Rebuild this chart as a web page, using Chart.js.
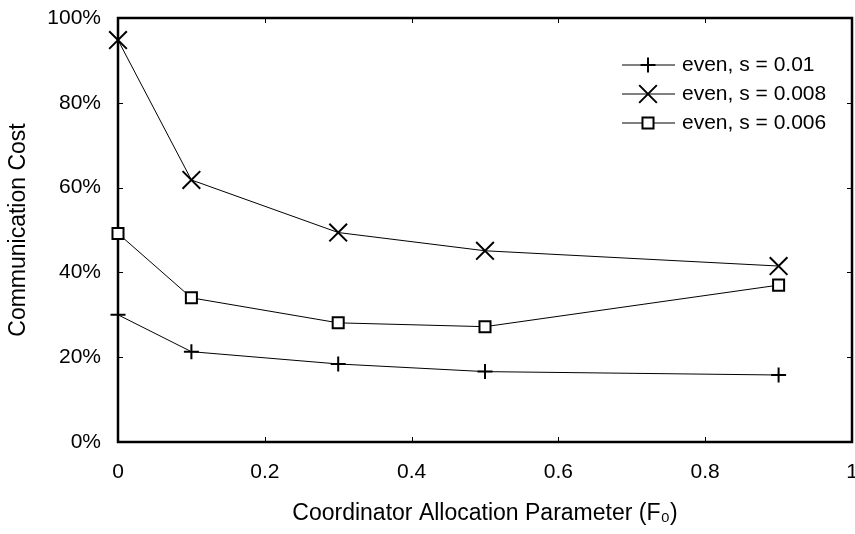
<!DOCTYPE html>
<html>
<head>
<meta charset="utf-8">
<script src="https://cdn.jsdelivr.net/npm/chart.js@4/dist/chart.umd.min.js"></script>
<style>
  html, body { margin: 0; padding: 0; background: #fff; overflow: hidden; }
  canvas { display: block; }
</style>
</head>
<body>
<canvas id="myChart" width="855" height="534"></canvas>
<script>
// data
const fValues = [0, 0.1, 0.3, 0.5, 0.9];
const cost001 = [30, 21.3, 18.4, 16.6, 15.8];
const cost0008 = [94.8, 61.8, 49.4, 45.1, 41.5];
const cost0006 = [49.2, 34, 28.1, 27.2, 37];
const seriesLabels = ['even, s = 0.01', 'even, s = 0.008', 'even, s = 0.006'];
const xTicks = [0, 0.2, 0.4, 0.6, 0.8, 1];
const yTicks = [0, 20, 40, 60, 80, 100];

const FONT = "'Liberation Sans', Arial, Helvetica, sans-serif";
Chart.defaults.font.family = FONT;
Chart.defaults.font.size = 21;
Chart.defaults.color = '#000';

function toPoints(vals) {
  return fValues.map(function(f, i) { return { x: f, y: vals[i] }; });
}

function drawMarker(ctx, style, r, x, y) {
  ctx.save();
  ctx.strokeStyle = '#000';
  ctx.lineWidth = 2;
  ctx.beginPath();
  if (style === 'cross') {
    ctx.moveTo(x - r, y); ctx.lineTo(x + r, y);
    ctx.moveTo(x, y - r); ctx.lineTo(x, y + r);
    ctx.stroke();
  } else if (style === 'crossRot') {
    var d = r * Math.SQRT1_2;
    ctx.moveTo(x - d, y - d); ctx.lineTo(x + d, y + d);
    ctx.moveTo(x - d, y + d); ctx.lineTo(x + d, y - d);
    ctx.stroke();
  } else {
    var s = r * Math.SQRT1_2;
    ctx.fillStyle = '#fff';
    ctx.rect(x - s, y - s, 2 * s, 2 * s);
    ctx.fill();
    ctx.stroke();
  }
  ctx.restore();
}

// frame + inward tick marks
const framePlugin = {
  id: 'frame',
  beforeDatasetsDraw(chart) {
    const ctx = chart.ctx;
    const a = chart.chartArea;
    const xs = chart.scales.x, ys = chart.scales.y;
    ctx.save();
    ctx.strokeStyle = '#000';
    ctx.lineWidth = 1;
    ctx.beginPath();
    xTicks.forEach(function(t) {
      var px = Math.round(xs.getPixelForValue(t)) + 0.5;
      ctx.moveTo(px, a.top); ctx.lineTo(px, a.top + 5);
      ctx.moveTo(px, a.bottom); ctx.lineTo(px, a.bottom - 5);
    });
    yTicks.forEach(function(t) {
      var py = Math.round(ys.getPixelForValue(t)) + 0.5;
      ctx.moveTo(a.left, py); ctx.lineTo(a.left + 5, py);
      ctx.moveTo(a.right, py); ctx.lineTo(a.right - 5, py);
    });
    ctx.stroke();
    ctx.lineWidth = 2.5;
    ctx.strokeRect(a.left, a.top, a.right - a.left, a.bottom - a.top);
    ctx.restore();
  }
};

// legend: line with marker in the middle
const legendPlugin = {
  id: 'lineLegend',
  afterDraw(chart) {
    const ctx = chart.ctx;
    chart.data.datasets.forEach(function(ds, i) {
      var y = 65 + i * 29;
      ctx.save();
      ctx.strokeStyle = '#000';
      ctx.lineWidth = 1;
      ctx.beginPath();
      ctx.moveTo(622, y); ctx.lineTo(675, y);
      ctx.stroke();
      ctx.restore();
      drawMarker(ctx, ds.pointStyle, ds.pointRadius, 648, y);
      ctx.save();
      ctx.fillStyle = '#000';
      ctx.font = '21px ' + FONT;
      ctx.textAlign = 'left';
      ctx.textBaseline = 'middle';
      ctx.fillText(ds.label, 682, y);
      ctx.restore();
    });
  }
};

const data = {
  datasets: [{
      label: seriesLabels[0],
      data: toPoints(cost001),
      pointStyle: 'cross',
      pointRadius: 7.5
    },
    {
      label: seriesLabels[1],
      data: toPoints(cost0008),
      pointStyle: 'crossRot',
      pointRadius: 12.5
    },
    {
      label: seriesLabels[2],
      data: toPoints(cost0006),
      pointStyle: 'rect',
      pointRadius: 7.8
    }
  ].map(function(d) {
    return Object.assign({
      borderColor: '#000',
      borderWidth: 1,
      backgroundColor: '#fff',
      pointBorderColor: '#000',
      pointBackgroundColor: '#fff',
      pointBorderWidth: 2,
      pointHoverRadius: d.pointRadius,
      tension: 0,
      fill: false,
      clip: false
    }, d);
  })
};

const myconfig = {
  type: 'line',
  data: data,
  plugins: [framePlugin, legendPlugin],
  options: {
    responsive: false,
    animation: false,
    layout: {
      autoPadding: false,
      padding: { top: 18, right: 3, left: 0, bottom: 0 }
    },
    plugins: {
      legend: { display: false },
      tooltip: { enabled: false }
    },
    scales: {
      x: {
        type: 'linear',
        min: 0,
        max: 1,
        grid: { display: false, drawTicks: false },
        border: { display: false },
        afterBuildTicks: function(scale) {
          scale.ticks = xTicks.map(function(v) { return { value: v }; });
        },
        afterFit: function(scale) {
          scale.height = 92;
          scale.paddingLeft = 0;
          scale.paddingRight = 0;
        },
        ticks: {
          padding: 18,
          maxRotation: 0,
          callback: function(v) {
            return (v === 0 || v === 1) ? String(v) : v.toFixed(1);
          }
        },
        title: {
          display: true,
          text: 'Coordinator Allocation Parameter (F\u2080)',
          font: { size: 23 },
          padding: { top: 0, bottom: 7 }
        }
      },
      y: {
        min: 0,
        max: 100,
        grid: { display: false, drawTicks: false },
        border: { display: false },
        afterBuildTicks: function(scale) {
          scale.ticks = yTicks.map(function(v) { return { value: v }; });
        },
        afterFit: function(scale) {
          scale.width = 118;
          scale.paddingTop = 0;
          scale.paddingBottom = 0;
        },
        ticks: {
          padding: 17,
          callback: function(v) { return v + '%'; }
        },
        title: {
          display: true,
          text: 'Communication Cost',
          font: { size: 23 },
          padding: { top: 5, bottom: 0 }
        }
      }
    }
  }
};

var myChart = new Chart(document.getElementById('myChart'), myconfig);
</script>
</body>
</html>
